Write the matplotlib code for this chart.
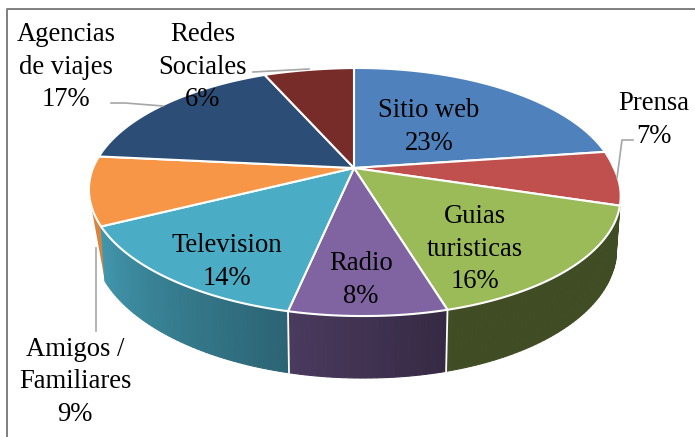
import numpy as np
import matplotlib
matplotlib.use("Agg")
import matplotlib.pyplot as plt
from matplotlib.colors import to_rgb

# Data
categories = ["Sitio web", "Prensa", "Guias\nturisticas", "Radio", "Television",
              "Amigos /\nFamiliares", "Agencias\nde viajes", "Redes\nSociales"]
values = [23, 7, 16, 8, 14, 9, 17, 6]
colors = ["#4F81BD", "#C0504D", "#9BBB59", "#8064A2", "#4BACC6",
          "#F79646", "#2C4D75", "#772C2A"]

plt.rcParams["font.family"] = "Liberation Serif"

fig = plt.figure(figsize=(6.95, 4.37), dpi=100)
ax = fig.add_axes([0, 0, 1, 1])
ax.set_xlim(0, 695)
ax.set_ylim(437, 0)
ax.axis("off")

# Chart frame
ax.plot([6.5, 6.5, 695], [437, 8.5, 8.5], color="#7F7F7F", lw=1.4, zorder=0)

cx, cy = 354, 168
rx, ry, k = 259, 119.35, 0.1935
depth = 50
shear = 0.1


# tilted circle: perspective from pie angle (degrees clockwise from top)
def rim(theta):
    t = np.radians(theta)
    u, v = np.sin(t), np.cos(t)
    w = 1 + k * v
    x = rx * u / w
    y = -ry * v / w
    x = np.where(u < 0, x * 1.012, x)
    roll = np.where(u < 0, -0.012, -0.006)
    # the picture leans a little, front to the right and back left to the left
    dx = shear * np.maximum(y, 0) + 0.08 * np.minimum(y, 0) * np.clip(-u * 3, 0, 1)
    return cx + x + dx, cy + y + roll * x


def floor(theta):
    t = np.radians(theta)
    x, y = rim(theta)
    return cx + (x - cx) * 0.985, y + depth / (1 + k * np.cos(t))


def shade(theta):
    if theta < 165:
        return 0.41
    return min(0.41 + (theta - 165) * 0.0058, 0.9)


bounds = np.cumsum([0] + values) * 3.6

# Side wall, only the front part shows
for i in range(len(values)):
    a0, a1 = bounds[i], bounds[i + 1]
    if a1 <= 108 or a0 >= 280:
        continue
    base = np.array(to_rgb(colors[i]))
    if a0 > 240:
        # left sliver narrows to a point behind the next wall
        th = np.linspace(a0, a0 + 10, 12)
        xs, ys = rim(th)
        xb, yb = floor(np.array([a0]))
        ax.fill(np.r_[xs, xb], np.r_[ys, yb], color=base * 0.88, lw=0, zorder=1)
        continue
    steps = np.linspace(a0, a1, int(a1 - a0) + 2)
    for s0, s1 in zip(steps[:-1], steps[1:]):
        xa, ya = rim(np.array([s0, s1]))
        xb, yb = floor(np.array([s1, s0]))
        c = base * shade((s0 + s1) / 2)
        ax.fill(np.r_[xa, xb], np.r_[ya, yb], facecolor=c, edgecolor=c, lw=0.8, zorder=2)
    # white seam between wall pieces
    if a0 > 108:
        xa, ya = rim(np.array([a0]))
        xb, yb = floor(np.array([a0]))
        ax.plot([xa[0], xb[0]], [ya[0], yb[0]], color="white", lw=1.3, zorder=3)

# Top of the pie
for i in range(len(values)):
    th = np.linspace(bounds[i], bounds[i + 1], 80)
    xs, ys = rim(th)
    ax.fill(np.r_[cx, xs], np.r_[cy, ys], facecolor=colors[i],
            edgecolor="white", lw=1.5, joinstyle="round", zorder=4)

# Labels
label_pos = [(429, 127), (654, 120), (475, 249), (361, 280), (227, 262),
             (75, 382), (66, 67), (203, 67)]
for name, val, (lx, ly) in zip(categories, values, label_pos):
    ax.text(lx, ly, f"{name}\n{val}%", ha="center", va="center", fontsize=19.2,
            color="black", linespacing=1.37, zorder=6)

# Leader lines
leaders = [([633, 622, 617], [140, 140, 178]),
           ([111, 125, 163], [103, 103, 106]),
           ([253, 309], [72, 69]),
           ([96, 96], [248, 331])]
for lx, ly in leaders:
    ax.plot(lx, ly, color="#A6A6A6", lw=1.2, zorder=5)

fig.savefig("out.png", dpi=100)
